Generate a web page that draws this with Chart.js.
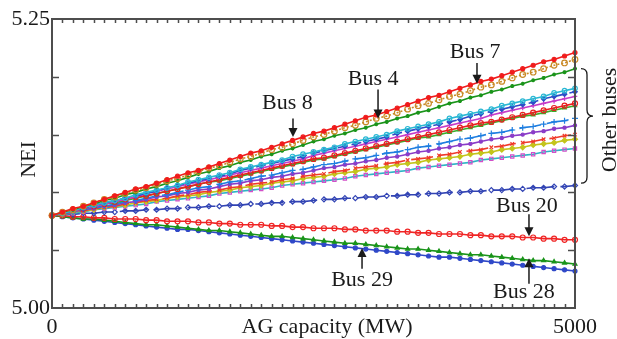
<!DOCTYPE html>
<html lang="en">
<head>
  <meta charset="UTF-8">
  <title>NEI vs AG capacity</title>
  <script src="https://cdn.jsdelivr.net/npm/chart.js@4.4.0/dist/chart.umd.min.js"></script>
  <style>
    body { margin: 0; background: #fff; }
    #wrap { width: 617px; height: 339px; }
  </style>
</head>
<body>
  <div id="wrap"><canvas id="chart" width="617" height="339"></canvas></div>

  <script>
    /* x values: AG capacity in MW, one sample every 100 MW */
    const capacity = [0, 100, 200, 300, 400, 500, 600, 700, 800, 900, 1000, 1100, 1200, 1300, 1400, 1500, 1600, 1700, 1800, 1900,
      2000, 2100, 2200, 2300, 2400, 2500, 2600, 2700, 2800, 2900, 3000, 3100, 3200, 3300, 3400, 3500, 3600, 3700, 3800, 3900,
      4000, 4100, 4200, 4300, 4400, 4500, 4600, 4700, 4800, 4900, 5000]

    /* NEI values, one array per bus line (top to bottom at 5000 MW) */
    const bus8 = [5.080,5.083,5.086,5.088,5.091,5.094,5.097,5.100,5.103,5.105,5.108,5.111,5.114,5.117,5.119,5.122,5.125,5.128,5.131,5.134,5.136,5.139,5.142,5.145,5.148,5.151,5.153,5.156,5.159,5.162,5.165,5.167,5.170,5.173,5.176,5.179,5.182,5.184,5.187,5.190,5.193,5.196,5.198,5.201,5.204,5.207,5.210,5.213,5.215,5.218,5.221]
    const bus4 = [5.080,5.083,5.085,5.088,5.091,5.094,5.096,5.099,5.102,5.104,5.107,5.110,5.112,5.115,5.118,5.121,5.123,5.126,5.129,5.131,5.134,5.137,5.139,5.142,5.145,5.148,5.150,5.153,5.156,5.158,5.161,5.164,5.166,5.169,5.172,5.175,5.177,5.180,5.183,5.185,5.188,5.191,5.193,5.196,5.199,5.202,5.204,5.207,5.210,5.212,5.215]
    const other1 = [5.080,5.083,5.085,5.088,5.090,5.093,5.095,5.098,5.100,5.103,5.105,5.108,5.110,5.113,5.116,5.118,5.121,5.123,5.126,5.128,5.131,5.133,5.136,5.138,5.141,5.144,5.146,5.149,5.151,5.154,5.156,5.159,5.161,5.164,5.166,5.169,5.171,5.174,5.177,5.179,5.182,5.184,5.187,5.189,5.192,5.194,5.197,5.199,5.202,5.204,5.207]
    const other2 = [5.080,5.082,5.084,5.087,5.089,5.091,5.093,5.095,5.098,5.100,5.102,5.104,5.106,5.109,5.111,5.113,5.115,5.117,5.120,5.122,5.124,5.126,5.128,5.131,5.133,5.135,5.137,5.139,5.142,5.144,5.146,5.148,5.150,5.153,5.155,5.157,5.159,5.161,5.164,5.166,5.168,5.170,5.172,5.175,5.177,5.179,5.181,5.183,5.186,5.188,5.190]
    const other3 = [5.080,5.082,5.084,5.086,5.089,5.091,5.093,5.095,5.097,5.099,5.101,5.104,5.106,5.108,5.110,5.112,5.114,5.116,5.119,5.121,5.123,5.125,5.127,5.129,5.131,5.134,5.136,5.138,5.140,5.142,5.144,5.146,5.148,5.151,5.153,5.155,5.157,5.159,5.161,5.163,5.166,5.168,5.170,5.172,5.174,5.176,5.178,5.181,5.183,5.185,5.187]
    const other4 = [5.080,5.082,5.084,5.086,5.088,5.090,5.092,5.094,5.096,5.099,5.101,5.103,5.105,5.107,5.109,5.111,5.113,5.115,5.117,5.119,5.121,5.123,5.125,5.127,5.129,5.132,5.134,5.136,5.138,5.140,5.142,5.144,5.146,5.148,5.150,5.152,5.154,5.156,5.158,5.160,5.162,5.164,5.167,5.169,5.171,5.173,5.175,5.177,5.179,5.181,5.183]
    const other5 = [5.080,5.082,5.084,5.086,5.088,5.090,5.092,5.094,5.096,5.097,5.099,5.101,5.103,5.105,5.107,5.109,5.111,5.113,5.115,5.117,5.119,5.121,5.123,5.125,5.127,5.129,5.130,5.132,5.134,5.136,5.138,5.140,5.142,5.144,5.146,5.148,5.150,5.152,5.154,5.156,5.158,5.160,5.161,5.163,5.165,5.167,5.169,5.171,5.173,5.175,5.177]
    const other6 = [5.080,5.082,5.084,5.086,5.088,5.090,5.091,5.093,5.095,5.097,5.099,5.101,5.103,5.105,5.107,5.109,5.110,5.112,5.114,5.116,5.118,5.120,5.122,5.124,5.126,5.128,5.129,5.131,5.133,5.135,5.137,5.139,5.141,5.143,5.145,5.147,5.148,5.150,5.152,5.154,5.156,5.158,5.160,5.162,5.164,5.166,5.167,5.169,5.171,5.173,5.175]
    const other7 = [5.080,5.082,5.083,5.085,5.087,5.088,5.090,5.092,5.093,5.095,5.097,5.098,5.100,5.102,5.104,5.105,5.107,5.109,5.110,5.112,5.114,5.115,5.117,5.119,5.120,5.122,5.124,5.125,5.127,5.129,5.130,5.132,5.134,5.135,5.137,5.139,5.140,5.142,5.144,5.146,5.147,5.149,5.151,5.152,5.154,5.156,5.157,5.159,5.161,5.162,5.164]
    const other8 = [5.080,5.082,5.083,5.085,5.086,5.088,5.089,5.091,5.092,5.094,5.096,5.097,5.099,5.100,5.102,5.103,5.105,5.107,5.108,5.110,5.111,5.113,5.114,5.116,5.117,5.119,5.121,5.122,5.124,5.125,5.127,5.128,5.130,5.131,5.133,5.135,5.136,5.138,5.139,5.141,5.142,5.144,5.146,5.147,5.149,5.150,5.152,5.153,5.155,5.156,5.158]
    const other9 = [5.080,5.081,5.083,5.084,5.086,5.087,5.088,5.090,5.091,5.093,5.094,5.095,5.097,5.098,5.100,5.101,5.102,5.104,5.105,5.107,5.108,5.109,5.111,5.112,5.114,5.115,5.116,5.118,5.119,5.121,5.122,5.123,5.125,5.126,5.128,5.129,5.130,5.132,5.133,5.135,5.136,5.137,5.139,5.140,5.142,5.143,5.144,5.146,5.147,5.149,5.150]
    const other10 = [5.080,5.081,5.083,5.084,5.085,5.087,5.088,5.089,5.091,5.092,5.093,5.095,5.096,5.097,5.098,5.100,5.101,5.102,5.104,5.105,5.106,5.108,5.109,5.110,5.112,5.113,5.114,5.116,5.117,5.118,5.120,5.121,5.122,5.124,5.125,5.126,5.128,5.129,5.130,5.131,5.133,5.134,5.135,5.137,5.138,5.139,5.141,5.142,5.143,5.145,5.146]
    const other11 = [5.080,5.081,5.082,5.083,5.085,5.086,5.087,5.088,5.089,5.090,5.092,5.093,5.094,5.095,5.096,5.097,5.099,5.100,5.101,5.102,5.103,5.104,5.106,5.107,5.108,5.109,5.110,5.111,5.112,5.114,5.115,5.116,5.117,5.118,5.119,5.121,5.122,5.123,5.124,5.125,5.126,5.128,5.129,5.130,5.131,5.132,5.133,5.135,5.136,5.137,5.138]
    const lowBlue = [5.080,5.081,5.081,5.082,5.082,5.083,5.083,5.084,5.084,5.085,5.085,5.086,5.086,5.087,5.087,5.088,5.088,5.089,5.089,5.090,5.090,5.091,5.091,5.092,5.092,5.093,5.094,5.094,5.095,5.095,5.096,5.096,5.097,5.097,5.098,5.098,5.099,5.099,5.100,5.100,5.101,5.101,5.102,5.102,5.103,5.103,5.104,5.104,5.105,5.105,5.106]
    const bus20 = [5.080,5.080,5.079,5.079,5.078,5.078,5.077,5.077,5.077,5.076,5.076,5.075,5.075,5.075,5.074,5.074,5.073,5.073,5.072,5.072,5.072,5.071,5.071,5.070,5.070,5.069,5.069,5.069,5.068,5.068,5.067,5.067,5.067,5.066,5.066,5.065,5.065,5.064,5.064,5.064,5.063,5.063,5.062,5.062,5.062,5.061,5.061,5.060,5.060,5.059,5.059]
    const bus29 = [5.080,5.079,5.078,5.077,5.077,5.076,5.075,5.074,5.073,5.072,5.072,5.071,5.070,5.069,5.068,5.067,5.067,5.066,5.065,5.064,5.063,5.062,5.062,5.061,5.060,5.059,5.058,5.057,5.056,5.056,5.055,5.054,5.053,5.052,5.051,5.051,5.050,5.049,5.048,5.047,5.046,5.046,5.045,5.044,5.043,5.042,5.041,5.041,5.040,5.039,5.038]
    const bus28 = [5.080,5.079,5.078,5.077,5.076,5.075,5.074,5.073,5.072,5.071,5.070,5.069,5.068,5.068,5.067,5.066,5.065,5.064,5.063,5.062,5.061,5.060,5.059,5.058,5.057,5.056,5.055,5.054,5.053,5.052,5.051,5.050,5.049,5.048,5.047,5.046,5.045,5.044,5.044,5.043,5.042,5.041,5.040,5.039,5.038,5.037,5.036,5.035,5.034,5.033,5.032]

    /* tick labels */
    const xTickLabels = [0, 5000]
    const yTickLabels = [5.00, 5.25]
    const yMinorTicks = [5.05, 5.10, 5.15, 5.20]

    /* line looks */
    const series = [
      { name: 'Bus 8', data: bus8, color: '#f01c1c', point: 'circle', open: false, r: 2, dash: [] },
      { name: 'Bus 4', data: bus4, color: '#c98a26', point: 'circle', open: true, r: 2.8, dash: [2, 2] },
      { name: 'Other 1', data: other1, color: '#1a941a', point: 'star', open: false, r: 2, dash: [] },
      { name: 'Other 2', data: other2, color: '#2ab8d4', point: 'circle', open: true, r: 2.3, dash: [] },
      { name: 'Other 3', data: other3, color: '#2f4cc8', point: 'rectRot', open: false, r: 2.3, dash: [10, 4] },
      { name: 'Other 4', data: other4, color: '#c63cc8', point: 'cross', open: false, r: 2.3, dash: [] },
      { name: 'Other 5', data: other5, color: '#e82020', point: 'circle', open: true, r: 2.5, dash: [] },
      { name: 'Other 6', data: other6, color: '#3aae2a', point: 'triangle', open: false, r: 2, dash: [] },
      { name: 'Other 7', data: other7, color: '#1e7ee0', point: 'cross', open: false, r: 3, dash: [22, 6] },
      { name: 'Other 8', data: other8, color: '#8a3cc8', point: 'circle', open: false, r: 1.6, dash: [] },
      { name: 'Other 9', data: other9, color: '#f03a2a', point: 'crossRot', open: false, r: 2.5, dash: [22, 6] },
      { name: 'Other 10', data: other10, color: '#c4c41c', point: 'rectRot', open: false, r: 2.5, dash: [] },
      { name: 'Other 11', data: other11, color: '#2eb4c6', point: 'rect', open: true, r: 2.3, dash: [], pointColor: '#d24ec8' },
      { name: 'Low', data: lowBlue, color: '#3244b4', point: 'rectRot', open: true, r: 2.5, dash: [28, 6] },
      { name: 'Bus 20', data: bus20, color: '#f02424', point: 'circle', open: true, r: 2.5, dash: [] },
      { name: 'Bus 29', data: bus29, color: '#1a941a', point: 'triangle', open: false, r: 2.3, dash: [] },
      { name: 'Bus 28', data: bus28, color: '#2f48c8', point: 'circle', open: false, r: 2, dash: [] }
    ]

    /* annotation texts with their anchor points in data units */
    const annotations = [
      { text: 'Bus 8', tx: 2250, ty: 5.177, ax: 2304, from: 5.164, to: 5.148 },
      { text: 'Bus 4', tx: 3070, ty: 5.198, ax: 3117, from: 5.189, to: 5.164 },
      { text: 'Bus 7', tx: 4045, ty: 5.221, ax: 4063, from: 5.212, to: 5.194 },
      { text: 'Bus 20', tx: 4540, ty: 5.088, ax: 4560, from: 5.081, to: 5.062 },
      { text: 'Bus 29', tx: 2964, ty: 5.024, ax: 2964, from: 5.034, to: 5.052 },
      { text: 'Bus 28', tx: 4512, ty: 5.014, ax: 4560, from: 5.021, to: 5.043 }
    ]

    const FONT = '"Liberation Serif", "Times New Roman", serif'
    const INK = '#1a1a1a'
    const AXIS = '#4d4d4d'

    /* Draw frame, inward ticks, axis titles, brace and bus arrows. */
    const decorations = {
      id: 'decorations',
      afterDatasetsDraw(chart) {
        const { ctx, chartArea: a, scales: { x, y } } = chart
        ctx.save()

        // inward ticks
        ctx.strokeStyle = AXIS
        ctx.lineWidth = 1.5
        ctx.beginPath()
        for (let v = 100; v < 5000; v += 100) {
          const px = Math.round(x.getPixelForValue(v)) + 0.5
          ctx.moveTo(px, a.bottom); ctx.lineTo(px, a.bottom - 4)
          ctx.moveTo(px, a.top); ctx.lineTo(px, a.top + 4)
        }
        yMinorTicks.forEach(v => {
          const py = Math.round(y.getPixelForValue(v)) + 0.5
          ctx.moveTo(a.left, py); ctx.lineTo(a.left + 7, py)
          ctx.moveTo(a.right, py); ctx.lineTo(a.right - 7, py)
        })
        ctx.stroke()

        // frame
        ctx.lineWidth = 2
        ctx.strokeRect(a.left, a.top, a.right - a.left, a.bottom - a.top)

        // titles
        ctx.fillStyle = INK
        ctx.font = '22px ' + FONT
        ctx.textAlign = 'center'
        ctx.textBaseline = 'middle'
        ctx.fillText('AG capacity (MW)', x.getPixelForValue(2630), a.bottom + 19)

        ctx.save()
        ctx.translate(a.left - 23, (a.top + a.bottom) / 2 - 4)
        ctx.rotate(-Math.PI / 2)
        ctx.fillText('NEI', 0, 0)
        ctx.restore()

        // brace for the other buses
        const bTop = y.getPixelForValue(5.207)
        const bBot = y.getPixelForValue(5.108)
        const bMid = y.getPixelForValue(5.166)
        const x0 = a.right + 6, xm = x0 + 6, xt = x0 + 12
        ctx.strokeStyle = INK
        ctx.lineWidth = 1.3
        ctx.beginPath()
        ctx.moveTo(x0, bTop)
        ctx.quadraticCurveTo(xm, bTop, xm, bTop + 6)
        ctx.lineTo(xm, bMid - 6)
        ctx.quadraticCurveTo(xm, bMid, xt, bMid)
        ctx.quadraticCurveTo(xm, bMid, xm, bMid + 6)
        ctx.lineTo(xm, bBot - 6)
        ctx.quadraticCurveTo(xm, bBot, x0, bBot)
        ctx.stroke()

        ctx.save()
        ctx.translate(a.right + 35, (bTop + bBot) / 2 - 6)
        ctx.rotate(-Math.PI / 2)
        ctx.fillText('Other buses', 0, 0)
        ctx.restore()

        // bus labels with arrows
        annotations.forEach(n => {
          ctx.fillStyle = INK
          ctx.fillText(n.text, x.getPixelForValue(n.tx), y.getPixelForValue(n.ty))
          const ax = x.getPixelForValue(n.ax)
          const y0 = y.getPixelForValue(n.from)
          const y1 = y.getPixelForValue(n.to)
          const dir = y1 > y0 ? 1 : -1
          ctx.strokeStyle = INK
          ctx.lineWidth = 1.5
          ctx.beginPath()
          ctx.moveTo(ax, y0)
          ctx.lineTo(ax, y1 - dir * 7)
          ctx.stroke()
          ctx.beginPath()
          ctx.moveTo(ax, y1)
          ctx.lineTo(ax - 4.5, y1 - dir * 9)
          ctx.lineTo(ax + 4.5, y1 - dir * 9)
          ctx.closePath()
          ctx.fill()
        })

        ctx.restore()
      }
    }

    const datasets = series.map(s => ({
      label: s.name,
      data: s.data.map((v, i) => ({ x: capacity[i], y: v })),
      borderColor: s.color,
      borderWidth: 1.6,
      borderDash: s.dash,
      pointStyle: s.point,
      pointRadius: s.r,
      pointBorderWidth: 1.2,
      pointBorderColor: s.pointColor || s.color,
      pointBackgroundColor: s.open ? 'rgba(255,255,255,0)' : s.color,
      clip: 6,
      tension: 0
    }))

    const ctx = document.getElementById('chart').getContext('2d')
    const myChart = new Chart(ctx, {
      type: 'line',
      data: { datasets },
      options: {
        responsive: false,
        animation: false,
        layout: { padding: { top: 19, right: 42, left: 0, bottom: 0 } },
        plugins: { legend: { display: false }, tooltip: { enabled: false } },
        scales: {
          x: {
            type: 'linear',
            min: 0,
            max: 5000,
            grid: { display: false, drawTicks: false },
            border: { display: false },
            afterBuildTicks: scale => { scale.ticks = xTickLabels.map(v => ({ value: v })) },
            afterFit: scale => { scale.height = 31 },
            ticks: {
              autoSkip: false,
              maxRotation: 0,
              padding: 6,
              color: INK,
              font: { family: FONT, size: 22 },
              callback: v => String(v)
            }
          },
          y: {
            min: 5.0,
            max: 5.25,
            grid: { display: false, drawTicks: false },
            border: { display: false },
            afterBuildTicks: scale => { scale.ticks = yTickLabels.map(v => ({ value: v })) },
            afterFit: scale => { scale.width = 52 },
            ticks: {
              padding: 2,
              color: INK,
              font: { family: FONT, size: 22 },
              callback: v => v.toFixed(2)
            }
          }
        }
      },
      plugins: [decorations]
    })
  </script>
</body>
</html>
